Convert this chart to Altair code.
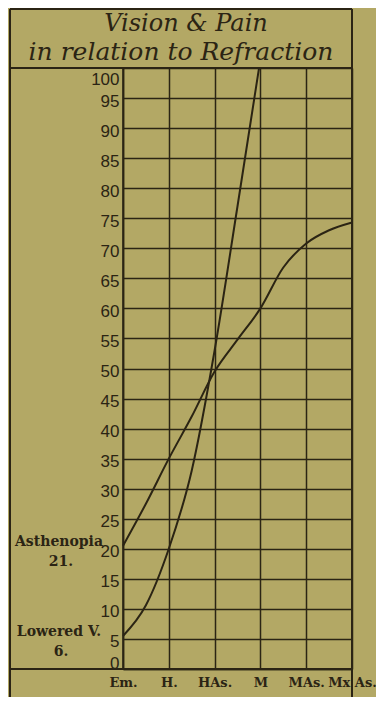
import altair as alt
import pandas as pd

# ---- data ----
categories = ["Em.", "H.", "HAs.", "M", "MAs.", "Mx As."]
asth_x = [0, 0.5, 1, 1.5, 2, 2.5, 3, 3.5, 4, 4.5, 5]
asth_y = [20.5, 27.5, 35, 42, 49.5, 54.8, 60, 66.8, 70.8, 73, 74.3]
lowv_x = [0, 0.5, 1, 1.5, 2, 2.5, 2.97]
lowv_y = [5.5, 10.6, 20, 33, 53, 77, 100]
series_names = ["Asthenopia", "Lowered V."]
start_labels = ["21.", "6."]
start_values = [21, 6]
title_lines = ["Vision & Pain", "in relation to Refraction"]
y_ticks = list(range(0, 101, 5))
x_ticks = list(range(len(categories)))

INK = "#2b2414"
BG = "#b3a865"

df_lines = pd.concat([
    pd.DataFrame({"series": series_names[0], "x": asth_x, "y": asth_y}),
    pd.DataFrame({"series": series_names[1], "x": lowv_x, "y": lowv_y}),
])
df_ann = pd.DataFrame({"name": series_names, "label": start_labels, "value": start_values})
dummy = pd.DataFrame({"k": [0]})

label_expr = "[" + ",".join('"%s"' % c for c in categories) + "][datum.value]"

x_scale = alt.Scale(domain=[0, 5], nice=False, zero=False)
y_scale = alt.Scale(domain=[0, 100], nice=False)

x_axis = alt.Axis(
    values=x_ticks, labelExpr=label_expr, grid=True, gridColor=INK,
    gridWidth=1.5, gridOpacity=1, ticks=False, domain=True,
    domainColor=INK, domainWidth=1.5, labelPadding=7,
    labelFont="DejaVu Serif", labelFontWeight="bold", labelFontSize=13,
    labelColor=INK, labelFlush=False, labelOverlap=False)
y_axis = alt.Axis(
    values=y_ticks, grid=True, gridColor=INK, gridWidth=1.5,
    gridOpacity=1, ticks=False, domain=True, domainColor=INK,
    domainWidth=1.5, labelPadding=4, labelFont="Liberation Sans",
    labelFontSize=17, labelColor=INK, labelOverlap=False,
    labelFlush=True, labelOffset=3)

lines = alt.Chart(df_lines).mark_line(
    interpolate="monotone", color=INK, strokeWidth=2
).encode(
    x=alt.X("x:Q", scale=x_scale, title=None, axis=x_axis),
    y=alt.Y("y:Q", scale=y_scale, title=None, axis=y_axis),
    detail="series:N",
)

ann_name = alt.Chart(df_ann).mark_text(
    font="DejaVu Serif", fontWeight="bold", fontSize=14, color=INK,
    align="center", baseline="alphabetic", dy=3
).encode(x=alt.value(-64),
         y=alt.Y("value:Q", scale=y_scale, title=None, axis=y_axis),
         text="name:N")

ann_val = alt.Chart(df_ann).mark_text(
    font="DejaVu Serif", fontWeight="bold", fontSize=14, color=INK,
    align="center", baseline="alphabetic", dy=23
).encode(x=alt.value(-62),
         y=alt.Y("value:Q", scale=y_scale, title=None, axis=y_axis),
         text="label:N")

t1 = alt.Chart(dummy).mark_text(
    text=title_lines[0], font="DejaVu Serif", fontStyle="italic", fontSize=24,
    color=INK, align="center", baseline="alphabetic"
).encode(x=alt.value(63), y=alt.value(-37.5))

t2 = alt.Chart(dummy).mark_text(
    text=title_lines[1], font="DejaVu Serif", fontStyle="italic", fontSize=25,
    color=INK, align="center", baseline="alphabetic"
).encode(x=alt.value(58), y=alt.value(-8))

def hrule(y):
    return alt.Chart(dummy).mark_rule(color=INK, strokeWidth=2).encode(
        x=alt.value(-113), x2=alt.value(229), y=alt.value(y))

def vrule(x):
    return alt.Chart(dummy).mark_rule(color=INK, strokeWidth=2).encode(
        x=alt.value(x), y=alt.value(-59), y2=alt.value(650))

chart = alt.layer(
    lines, ann_name, ann_val, t1, t2,
    hrule(-59), hrule(0), hrule(601), vrule(-113), vrule(229),
).properties(
    width=229, height=601,
    autosize=alt.AutoSizeParams(type="none"),
    padding={"left": 115, "top": 60, "right": 24, "bottom": 28},
    background=BG,
).configure_view(stroke=INK, strokeWidth=1.5)

chart.save("out.html", embed_options={"renderer": "svg", "actions": False})
